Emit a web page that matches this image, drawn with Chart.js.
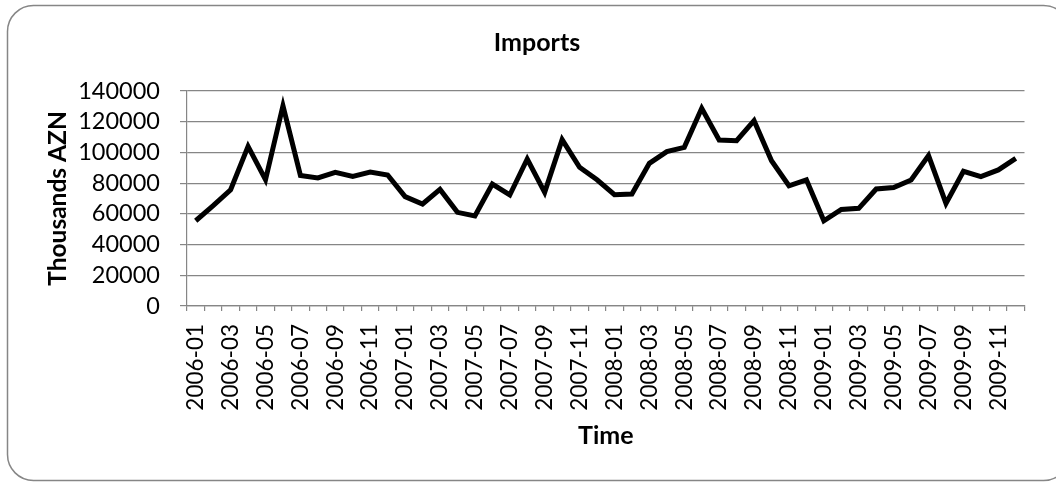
<!DOCTYPE html>
<html>
<head>
<meta charset="utf-8">
<script src="https://cdn.jsdelivr.net/npm/chart.js@4.4.1/dist/chart.umd.min.js"></script>
<style>
  html, body { margin: 0; padding: 0; background: #fff; }
  #wrap { position: relative; width: 1056px; height: 482px; }
</style>
</head>
<body>
<div id="wrap"><canvas id="c"></canvas></div>
<script>
// Monthly imports, thousands of AZN
const months = [
  '2006-01','2006-02','2006-03','2006-04','2006-05','2006-06','2006-07','2006-08','2006-09','2006-10','2006-11','2006-12',
  '2007-01','2007-02','2007-03','2007-04','2007-05','2007-06','2007-07','2007-08','2007-09','2007-10','2007-11','2007-12',
  '2008-01','2008-02','2008-03','2008-04','2008-05','2008-06','2008-07','2008-08','2008-09','2008-10','2008-11','2008-12',
  '2009-01','2009-02','2009-03','2009-04','2009-05','2009-06','2009-07','2009-08','2009-09','2009-10','2009-11','2009-12'
];
const imports = [
  55500, 65300, 75700, 103900, 82200, 130400, 85000, 83400, 87000, 84400, 87200, 85300,
  71200, 66400, 75900, 61000, 58600, 79400, 72300, 95700, 74000, 108300, 90300, 82200,
  72500, 72900, 92900, 100500, 103300, 128700, 108100, 107600, 120700, 94600, 78300, 82200,
  55500, 62900, 63600, 76200, 77200, 82000, 97900, 66800, 87700, 84200, 88600, 96100
];
const yMin = 0;
const yMax = 140000;
const yStep = 20000;

const FONT = 'Lato, "Open Sans", sans-serif';
const GRID = '#868686';

// White page with a rounded frame around the chart
const frame = {
  id: 'frame',
  beforeDraw(chart) {
    const ctx = chart.ctx;
    ctx.save();
    ctx.fillStyle = '#fff';
    ctx.fillRect(0, 0, chart.width, chart.height);
    ctx.beginPath();
    ctx.roundRect(7.5, 5.5, 1062, 475, 26);
    ctx.strokeStyle = GRID;
    ctx.lineWidth = 1.5;
    ctx.stroke();
    ctx.restore();
  }
};

new Chart(document.getElementById('c'), {
  type: 'line',
  data: {
    labels: months,
    datasets: [{
      label: 'Imports',
      data: imports,
      borderColor: '#000',
      borderWidth: 5,
      pointRadius: 0,
      tension: 0,
      fill: false
    }]
  },
  plugins: [frame],
  options: {
    responsive: true,
    maintainAspectRatio: false,
    animation: false,
    layout: { padding: { left: 39, right: 21, top: 20, bottom: 20 } },
    plugins: {
      legend: { display: false },
      tooltip: { enabled: false },
      title: {
        display: true,
        text: 'Imports',
        color: '#000',
        font: { family: FONT, size: 25, weight: 'bold' },
        padding: { top: 8, bottom: 33 }
      }
    },
    scales: {
      x: {
        type: 'category',
        offset: true,
        grid: { display: true, drawOnChartArea: false, drawTicks: true, tickLength: 5, color: GRID, lineWidth: 1.2, offset: true },
        border: { color: GRID, width: 1.2 },
        ticks: {
          autoSkip: false,
          minRotation: 90,
          maxRotation: 90,
          padding: 13,
          color: '#000',
          font: { family: FONT, size: 22.5 },
          callback: (v, i) => (i % 2 === 0 ? months[i] : '')
        },
        title: {
          display: true,
          text: 'Time',
          color: '#000',
          font: { family: FONT, size: 25, weight: 'bold' },
          padding: { top: 0, bottom: 11 }
        },
        afterFit(s) { s.height = 156; }
      },
      y: {
        min: yMin,
        max: yMax,
        grid: { color: GRID, lineWidth: 1.2, tickLength: 7 },
        border: { color: GRID, width: 1.2 },
        ticks: {
          stepSize: yStep,
          autoSkip: false,
          padding: 20,
          color: '#000',
          font: { family: FONT, size: 23.5 },
          callback: v => String(v)
        },
        title: {
          display: true,
          text: 'Thousands AZN',
          color: '#000',
          font: { family: FONT, size: 24.5, weight: 'bold' },
          padding: { top: 4, bottom: 0 }
        },
        afterFit(s) { s.width = 148; }
      }
    }
  }
});
</script>
</body>
</html>
